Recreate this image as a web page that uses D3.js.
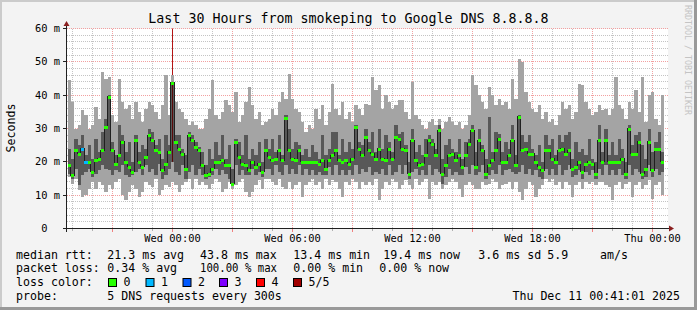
<!DOCTYPE html>
<html>
<head>
<meta charset="utf-8">
<script src="https://cdn.jsdelivr.net/npm/d3@7"></script>
<style>
  body { margin: 0; background: #f3f3f3; }
  text { font-family: "DejaVu Sans Mono", monospace; fill: #000; }
</style>
</head>
<body>
<svg id="chart" width="697" height="310"></svg>
<script>
// ---- data (10 minute bins, ms) ----
const startTime = "2025-12-09T18:45:00Z";
const stepMinutes = 10;

const med = [
  19, 16, 23.5, 22.5, 24, 20, 20, 17, 20.5, 21,
  23.5, 30.5, 39.5, 23.5, 19.5, 22, 26, 20, 18.5, 17,
  26.5, 20, 18.5, 21.5, 28, 26.5, 23.5, 23, 17.5, 19.5,
  23, 43.8, 26, 24, 22.5, 18, 28, 26.5, 24.5, 23.5,
  19, 16, 16.5, 18, 20, 20, 20.5, 19, 19, 13.5,
  26, 21.5, 19.5, 19, 17.5, 20, 18.5, 19.5, 17, 23.5,
  21.5, 20.5, 21, 23.5, 20.5, 33, 23.5, 21, 20.5, 23.5,
  20, 20, 20, 20, 20, 19.5, 20.5, 18, 20.5, 22,
  23.5, 20.5, 20, 20.5, 19.5, 21, 30.5, 24, 22, 27.5,
  23.5, 22.5, 21, 24, 21, 20.5, 24, 21, 27.5, 27,
  24, 23.5, 16.5, 26.5, 20.5, 19, 19.5, 22, 26.5, 25.5,
  22, 29.5, 16.5, 19, 22, 22.5, 20.5, 22, 18.5, 22,
  25.5, 29.5, 18.5, 26.5, 23.5, 16.5, 19, 20.5, 23.5, 27,
  20, 20, 22, 26.5, 19, 33.5, 23.5, 24, 22.5, 22.5,
  20, 18.5, 17.5, 23.5, 23.5, 21, 20, 23.5, 24, 22.5,
  23.5, 18, 18.5, 20, 17, 19.5, 20, 19.5, 16.5, 26.5,
  20, 26.5, 20, 20, 20, 20, 21, 16.5, 30, 22.5,
  22.5, 26, 16.5, 18, 26, 17.5, 24, 24, 20
];
const maxPing = [
  44.5, 38, 30, 31, 35.5, 34, 30, 31, 36.5, 33,
  47, 45, 45.5, 34, 32, 45, 38, 36, 37, 33,
  38, 35, 32, 36, 38, 37, 35, 33, 37, 46,
  34, 46, 38, 36, 35, 33, 31, 32, 31, 30,
  30, 33, 36, 44.5, 34, 33, 35, 38.5, 37, 35,
  41, 32, 34, 38, 42.5, 37, 33, 35, 31, 32,
  33, 36, 34, 38, 41, 39, 46.5, 39, 36, 35,
  32, 29, 31, 30, 36, 33, 37, 31, 35, 43.5,
  36, 34, 38, 33, 35, 32, 37, 36, 34, 37.5,
  37, 45.5, 41.5, 43, 36, 40, 38, 36, 37, 38.5,
  38.5, 35, 33, 44, 34, 33, 31, 30, 32, 33,
  31, 33, 30, 32, 33.5, 32, 31, 32, 30, 31,
  34, 46, 43, 40, 38, 36, 42.5, 40, 37, 39,
  37, 38, 36, 45, 39, 51, 50, 41, 38, 36,
  35, 37, 33, 35, 32, 33, 31, 34, 38, 36,
  37, 33, 35, 43.5, 43, 38, 36, 34, 35, 37,
  35.5, 36, 34, 36, 45.5, 37, 36, 33, 38, 36,
  41.5, 35, 45.5, 32, 40, 41, 33, 31, 40
];
const hiPing = [
  24, 21, 27, 25, 28, 22, 25, 21, 27, 23,
  29, 33, 40, 26, 22, 31, 28, 23, 26, 20,
  28, 23, 25, 24, 30, 29, 25, 27, 21, 28,
  25, 44, 28, 28, 24, 22, 29, 28, 26, 24.5,
  23, 19, 24, 21, 26, 22, 28, 21, 25, 18,
  27, 26, 22, 28, 21, 24, 22, 26, 20, 27,
  24, 27, 23, 28, 22, 34, 30, 24, 26, 25,
  22, 24, 21.5, 25, 23, 21, 28, 22, 24, 29,
  29, 22, 27, 23, 26, 24, 31, 26, 25, 30,
  26, 29, 23, 30, 24, 28, 26, 23, 31, 28.5,
  29, 25, 20, 30, 23, 25, 22, 27, 28, 27,
  24, 31, 21, 25, 27, 24, 23, 27, 21, 26,
  27, 31, 23, 30, 25, 21, 33.5, 23, 29, 28.5,
  23, 26, 24, 31, 22, 34, 28, 26, 28, 24,
  22, 25, 20, 28, 25, 27, 22, 28, 26, 28,
  29, 21, 26, 23, 24, 22, 27, 21, 20, 31,
  23, 30, 22, 26, 22, 27, 24, 20, 31, 25,
  28, 29, 25, 21, 30, 23, 26, 29, 23
];
const loPing = [
  16.5, 15, 18, 13, 16, 17, 18, 15.5, 16.5, 17.5,
  19, 18, 17.5, 16, 17.5, 17, 19, 16, 15.5, 16,
  17, 18, 16, 19, 17, 18, 16, 19.5, 15, 16,
  18, 20, 17, 16, 19, 15, 17, 19, 16, 18,
  16, 15, 15.5, 16, 18, 16, 17.5, 16.5, 15, 13,
  19, 16, 17.5, 16, 16, 18, 16, 17, 15.5, 18,
  18, 16, 19, 17, 16, 19, 16.5, 18, 16.5, 19,
  16, 18, 16, 17.5, 16, 17, 16, 16, 18.5, 16,
  19, 16, 17.5, 16, 17.5, 16, 19, 16.5, 18, 17,
  18.5, 16, 17, 16.5, 18, 16, 19, 16, 17, 19,
  16.5, 19, 15, 17, 18, 16, 17.5, 16, 19, 16,
  18, 17, 13.5, 15.5, 18, 16, 17, 16, 16, 18.5,
  16.5, 19, 16, 17, 19, 15, 16, 17.5, 16.5, 19,
  16, 17.5, 18, 17, 16.5, 17, 19, 16.5, 18, 16,
  17.5, 15.5, 15, 18, 16, 18, 16, 19, 16, 17.5,
  19, 15.5, 16, 17.5, 15, 17, 16, 17.5, 15, 18,
  16, 19, 16, 17.5, 16, 18, 16, 15, 19, 16,
  18, 17, 15, 15.5, 19, 15.5, 18, 16, 17
];
const minPing = [
  15.5, 13.5, 15, 11.5, 9.5, 10, 12, 14, 12, 14,
  13, 11, 13, 12, 14, 15, 10, 8.5, 11, 13,
  12, 9.5, 11, 14, 13, 12.5, 15, 10, 11.5, 13,
  12.5, 14, 13, 11, 13, 14, 15, 12, 15, 13,
  14, 13, 12, 13.5, 15, 14, 11, 12, 14, 12,
  13, 14, 15, 11, 9.5, 11, 13, 14.5, 12, 15,
  15, 14, 13, 15, 12.5, 12, 14, 12, 13, 14,
  9.5, 13, 14, 15, 13, 14, 12, 15, 13, 14.5,
  14, 12, 9.5, 14, 13, 15, 14, 12, 14, 13,
  14, 13, 15, 8.5, 12, 14, 13, 15, 14, 12,
  13, 14.5, 13, 12, 15, 13, 14, 15, 9, 14,
  13, 14, 12, 13, 14, 15, 14, 12, 9.5, 13,
  14, 13, 12, 12, 14, 13, 13.5, 15, 14, 12,
  13, 13.5, 14, 12, 14, 11, 8.5, 12, 14, 13,
  9.5, 12, 13, 15, 14, 15, 13, 14, 12, 14,
  13, 9.5, 13, 14, 12, 14, 13.5, 14, 13, 14,
  14, 13, 12.5, 8.5, 13, 14, 12, 13.5, 14, 9.5,
  13, 14, 12, 13, 14.5, 9, 13, 14, 10
];
// bins with some lost pings (count out of 5)
const lossBins = [4, 5];
const lossCounts = [1, 1];
// bin holding a 5 minute step where all 5 pings were lost
const allLostBins = [31];

const lossColors = ["#26ff00", "#00b8ff", "#0059ff", "#7e00ff", "#ff0000", "#a10000"];
const lossLabels = ["0", "1", "2", "3", "4", "5/5"];

const xTickTimes = ["2025-12-10T00:00:00Z", "2025-12-10T06:00:00Z", "2025-12-10T12:00:00Z",
                    "2025-12-10T18:00:00Z", "2025-12-11T00:00:00Z"];
const xTickLabels = ["Wed 00:00", "Wed 06:00", "Wed 12:00", "Wed 18:00", "Thu 00:00"];
const yTicks = [0, 10, 20, 30, 40, 50, 60];
const yTickLabels = ["0  ", "10 m", "20 m", "30 m", "40 m", "50 m", "60 m"];

const title = "Last 30 Hours from smokeping to Google DNS 8.8.8.8";
const rttLegend = ["median rtt:", "21.3 ms avg", "43.8 ms max", "13.4 ms min", "19.4 ms now", "3.6 ms sd", "5.9", "am/s"];
const lossLegend = ["packet loss:", "0.34 % avg", "100.00 % max", "0.00 % min", "0.00 % now"];
const probeLegend = ["probe:", "5 DNS requests every 300s"];
const stamp = "Thu Dec 11 00:41:01 2025";

// ---- drawing ----
const svg = d3.select("#chart");
const W = 697, H = 310;
const t0 = new Date(startTime);
const binStart = i => d3.utcMinute.offset(t0, i * stepMinutes);

const x = d3.scaleUtc().domain([t0, d3.utcHour.offset(t0, 30)]).range([67.5, 667.5]);
const y = d3.scaleLinear().domain([0, 60]).range([228.5, 28.5]);
const crisp = v => Math.floor(v) + 0.5;

// background + shaded frame
svg.append("rect").attr("width", W).attr("height", H).attr("fill", "#f3f3f3");
svg.append("rect").attr("x", 0).attr("y", 0).attr("width", W).attr("height", 2).attr("fill", "#cbcbcb");
svg.append("rect").attr("x", 0).attr("y", 0).attr("width", 2).attr("height", H).attr("fill", "#cbcbcb");
svg.append("rect").attr("x", W - 3).attr("y", 0).attr("width", 3).attr("height", H).attr("fill", "#999");
svg.append("rect").attr("x", 0).attr("y", H - 3).attr("width", W).attr("height", 3).attr("fill", "#999");

// canvas
svg.append("rect").attr("x", 67).attr("y", 29).attr("width", 601).attr("height", 199).attr("fill", "#fff");

const grid = svg.append("g").attr("stroke-dasharray", "1,1").attr("stroke-width", 1);
// horizontal grid
d3.range(2, 61, 2).forEach(v => {
  const major = v % 10 === 0;
  grid.append("line")
    .attr("x1", 67).attr("x2", 668)
    .attr("y1", crisp(y(v))).attr("y2", crisp(y(v)))
    .attr("stroke", major ? "#f2a0a0" : "#c4c4c4");
});
// vertical grid
d3.utcHour.range(d3.utcHour.ceil(t0), x.domain()[1]).forEach(h => {
  const major = h.getUTCHours() % 3 === 0;
  const xx = crisp(x(h));
  grid.append("line")
    .attr("x1", xx).attr("x2", xx).attr("y1", 29).attr("y2", 228)
    .attr("stroke", major ? "#f2a0a0" : "#c4c4c4");
  svg.append("line")
    .attr("x1", xx).attr("x2", xx).attr("y1", 229).attr("y2", major ? 232 : 231)
    .attr("stroke", major ? "#f08080" : "#b0b0b0");
});

// total loss marker: thin line from the top, partly hidden by the smoke
const plot = svg.append("g");
allLostBins.forEach(b => {
  const xm = crisp((x(binStart(b)) + x(binStart(b + 1))) / 2);
  plot.append("line")
    .attr("x1", xm).attr("x2", xm)
    .attr("y1", y(60)).attr("y2", y(24))
    .attr("stroke", "#b41414").attr("stroke-width", 1);
});

// smoke
const bins = med.map((m, i) => ({
  i, med: m, mx: maxPing[i], hi: hiPing[i], lo: loPing[i], mn: minPing[i],
  x0: x(binStart(i)), x1: x(binStart(i + 1))
}));
const smoke = plot.append("g").attr("shape-rendering", "crispEdges");
smoke.selectAll(".outer").data(bins).join("rect")
  .attr("x", d => d.x0).attr("width", d => d.x1 - d.x0)
  .attr("y", d => y(d.mx)).attr("height", d => y(d.mn) - y(d.mx))
  .attr("fill", "#a4a4a4");
smoke.selectAll(".inner").data(bins).join("rect")
  .attr("x", d => d.x0).attr("width", d => d.x1 - d.x0)
  .attr("y", d => y(d.hi)).attr("height", d => y(d.lo) - y(d.hi))
  .attr("fill", "#585858");
// a dark red tint where the lost step sits
allLostBins.forEach(b => {
  const xm = crisp((x(binStart(b)) + x(binStart(b + 1))) / 2);
  plot.append("line")
    .attr("x1", xm).attr("x2", xm)
    .attr("y1", y(hiPing[b])).attr("y2", y(loPing[b]))
    .attr("stroke", "#5a0a0a").attr("stroke-width", 1);
});

// median step line
const pts = bins.map(d => ({ t: binStart(d.i), v: d.med }));
pts.push({ t: binStart(med.length), v: med[med.length - 1] });
const medLine = d3.line()
  .x(d => x(d.t)).y(d => y(d.v))
  .curve(d3.curveStepAfter);
plot.append("path").datum(pts)
  .attr("d", medLine)
  .attr("fill", "none").attr("stroke", "#202020").attr("stroke-width", 1)
  .attr("shape-rendering", "crispEdges");

// median marks coloured by loss
const lossOf = i => { const k = lossBins.indexOf(i); return k < 0 ? 0 : lossCounts[k]; };
plot.append("g").attr("shape-rendering", "crispEdges")
  .selectAll("rect").data(bins).join("rect")
  .attr("x", d => d.x0).attr("width", d => d.x1 - d.x0)
  .attr("y", d => Math.round(y(d.med)) - 1.5).attr("height", 3)
  .attr("fill", d => lossColors[lossOf(d.i)]);

// axes
svg.append("line").attr("x1", 63).attr("x2", 669).attr("y1", 228.5).attr("y2", 228.5)
  .attr("stroke", "#202020");
svg.append("path").attr("d", "M669,225.5L674,228.5L669,231.5Z").attr("fill", "#8a1f1f");
svg.append("line").attr("x1", 66.5).attr("x2", 66.5).attr("y1", 232).attr("y2", 26)
  .attr("stroke", "#202020");
svg.append("path").attr("d", "M63.5,26L66.5,21L69.5,26Z").attr("fill", "#8a1f1f");

// y ticks + labels
yTicks.forEach((v, k) => {
  const yy = crisp(y(v));
  svg.append("line").attr("x1", 63).attr("x2", 66).attr("y1", yy).attr("y2", yy).attr("stroke", "#202020");
  svg.append("text").attr("x", 60).attr("y", yy + 3.6)
    .attr("text-anchor", "end").style("font-size", "10.4px").style("white-space", "pre")
    .text(yTickLabels[k]);
});

// x labels
xTickTimes.forEach((t, k) => {
  svg.append("text").attr("x", x(new Date(t))).attr("y", 241.5)
    .attr("text-anchor", "middle").style("font-size", "10.4px")
    .text(xTickLabels[k]);
});

// title + axis title + watermark
svg.append("text").attr("x", 348.5).attr("y", 23).attr("text-anchor", "middle")
  .style("font-size", "13.3px").text(title);
svg.append("text").attr("transform", "translate(15,128) rotate(-90)")
  .attr("text-anchor", "middle").style("font-size", "11.6px").text("Seconds");
svg.append("text").attr("transform", "translate(685,5) rotate(90)")
  .style("font-size", "8.3px").style("fill", "#c4c4c4").text("RRDTOOL / TOBI OETIKER");

// legend
const leg = svg.append("g").style("font-size", "11.6px").style("white-space", "pre");
const rttX = [16, 107.3, 200, 293.3, 383.3, 478.3, 547.3, 600];
rttLegend.forEach((s, k) => leg.append("text").attr("x", rttX[k]).attr("y", 258.5).text(s));
const lossX = [16, 107.3, 200, 293.3, 379.3];
lossLegend.forEach((s, k) => {
  const t = leg.append("text").attr("x", lossX[k]).attr("y", 272.2).text(s);
  if (k === 2) t.attr("textLength", 77).attr("lengthAdjust", "spacingAndGlyphs");
});
leg.append("text").attr("x", 16).attr("y", 286.2).text("loss color:");
const boxX = [108.5, 146, 183, 219.5, 256.5, 293.5];
lossLabels.forEach((s, k) => {
  leg.append("rect").attr("x", boxX[k]).attr("y", 278.5).attr("width", 8).attr("height", 8)
    .attr("fill", lossColors[k]).attr("stroke", "#000").attr("stroke-width", 1);
  leg.append("text").attr("x", boxX[k] + 15).attr("y", 286.2).text(s);
});
probeLegend.forEach((s, k) => leg.append("text").attr("x", [16, 107.3][k]).attr("y", 300).text(s));
leg.append("text").attr("x", 680).attr("y", 300).attr("text-anchor", "end").text(stamp);
</script>
</body>
</html>
